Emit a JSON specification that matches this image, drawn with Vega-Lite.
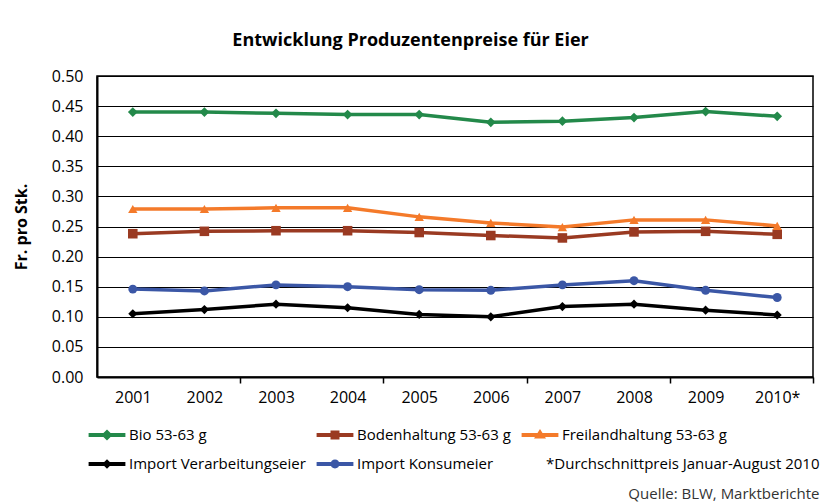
{
  "$schema": "https://vega.github.io/schema/vega-lite/v6.json",
  "background": "white",
  "padding": {"left": 12, "top": 31, "right": 4, "bottom": 0},
  "config": {"font": "Open Sans", "view": {"stroke": "black", "strokeWidth": 1.5}},
  "title": {
    "text": "*Durchschnittpreis Januar-August 2010",
    "subtitle": "Quelle: BLW, Marktberichte",
    "orient": "bottom", "anchor": "end", "frame": "bounds",
    "font": "Open Sans", "fontSize": 15, "fontWeight": "normal", "color": "black",
    "subtitleFont": "Open Sans", "subtitleFontSize": 15, "subtitleColor": "#333333",
    "subtitlePadding": 15, "offset": -18, "dx": 5
  },
  "datasets": {
    "prices": [
      {"year": "2001", "series": "Bio 53-63 g", "value": 0.440},
      {"year": "2002", "series": "Bio 53-63 g", "value": 0.440},
      {"year": "2003", "series": "Bio 53-63 g", "value": 0.438},
      {"year": "2004", "series": "Bio 53-63 g", "value": 0.436},
      {"year": "2005", "series": "Bio 53-63 g", "value": 0.436},
      {"year": "2006", "series": "Bio 53-63 g", "value": 0.423},
      {"year": "2007", "series": "Bio 53-63 g", "value": 0.425},
      {"year": "2008", "series": "Bio 53-63 g", "value": 0.431},
      {"year": "2009", "series": "Bio 53-63 g", "value": 0.441},
      {"year": "2010*", "series": "Bio 53-63 g", "value": 0.433},
      {"year": "2001", "series": "Bodenhaltung 53-63 g", "value": 0.238},
      {"year": "2002", "series": "Bodenhaltung 53-63 g", "value": 0.242},
      {"year": "2003", "series": "Bodenhaltung 53-63 g", "value": 0.243},
      {"year": "2004", "series": "Bodenhaltung 53-63 g", "value": 0.243},
      {"year": "2005", "series": "Bodenhaltung 53-63 g", "value": 0.240},
      {"year": "2006", "series": "Bodenhaltung 53-63 g", "value": 0.235},
      {"year": "2007", "series": "Bodenhaltung 53-63 g", "value": 0.231},
      {"year": "2008", "series": "Bodenhaltung 53-63 g", "value": 0.241},
      {"year": "2009", "series": "Bodenhaltung 53-63 g", "value": 0.242},
      {"year": "2010*", "series": "Bodenhaltung 53-63 g", "value": 0.237},
      {"year": "2001", "series": "Freilandhaltung 53-63 g", "value": 0.279},
      {"year": "2002", "series": "Freilandhaltung 53-63 g", "value": 0.279},
      {"year": "2003", "series": "Freilandhaltung 53-63 g", "value": 0.281},
      {"year": "2004", "series": "Freilandhaltung 53-63 g", "value": 0.281},
      {"year": "2005", "series": "Freilandhaltung 53-63 g", "value": 0.266},
      {"year": "2006", "series": "Freilandhaltung 53-63 g", "value": 0.256},
      {"year": "2007", "series": "Freilandhaltung 53-63 g", "value": 0.249},
      {"year": "2008", "series": "Freilandhaltung 53-63 g", "value": 0.261},
      {"year": "2009", "series": "Freilandhaltung 53-63 g", "value": 0.261},
      {"year": "2010*", "series": "Freilandhaltung 53-63 g", "value": 0.251},
      {"year": "2001", "series": "Import Verarbeitungseier", "value": 0.105},
      {"year": "2002", "series": "Import Verarbeitungseier", "value": 0.112},
      {"year": "2003", "series": "Import Verarbeitungseier", "value": 0.121},
      {"year": "2004", "series": "Import Verarbeitungseier", "value": 0.115},
      {"year": "2005", "series": "Import Verarbeitungseier", "value": 0.104},
      {"year": "2006", "series": "Import Verarbeitungseier", "value": 0.100},
      {"year": "2007", "series": "Import Verarbeitungseier", "value": 0.117},
      {"year": "2008", "series": "Import Verarbeitungseier", "value": 0.121},
      {"year": "2009", "series": "Import Verarbeitungseier", "value": 0.111},
      {"year": "2010*", "series": "Import Verarbeitungseier", "value": 0.103},
      {"year": "2001", "series": "Import Konsumeier", "value": 0.146},
      {"year": "2002", "series": "Import Konsumeier", "value": 0.143},
      {"year": "2003", "series": "Import Konsumeier", "value": 0.153},
      {"year": "2004", "series": "Import Konsumeier", "value": 0.150},
      {"year": "2005", "series": "Import Konsumeier", "value": 0.145},
      {"year": "2006", "series": "Import Konsumeier", "value": 0.144},
      {"year": "2007", "series": "Import Konsumeier", "value": 0.153},
      {"year": "2008", "series": "Import Konsumeier", "value": 0.160},
      {"year": "2009", "series": "Import Konsumeier", "value": 0.144},
      {"year": "2010*", "series": "Import Konsumeier", "value": 0.132}
    ]
  },
  "vconcat": [
    {
      "title": {"text": "Entwicklung Produzentenpreise für Eier", "font": "Open Sans", "fontSize": 18, "fontWeight": "bold", "anchor": "middle", "frame": "bounds", "offset": 18, "dx": -3, "color": "black"},
      "width": 716,
      "height": 301,
      "data": {"name": "prices"},
      "encoding": {
        "x": {
          "field": "year", "type": "ordinal", "bandPosition": 0.5,
          "scale": {"type": "band", "paddingInner": 0, "paddingOuter": 0},
          "axis": {
            "title": null, "labelAngle": 0, "labelFont": "Open Sans", "labelFontSize": 16, "labelColor": "black",
            "labelPadding": 6, "tickBand": "extent", "tickExtra": false, "tickSize": 6, "tickWidth": 1.5, "tickColor": "black",
            "tickOpacity": {"condition": {"test": "indexof(['2002','2004','2006','2008','2010*'], datum.value) >= 0", "value": 1}, "value": 0},
            "domainColor": "black", "domainWidth": 2, "grid": false
          }
        },
        "y": {
          "field": "value", "type": "quantitative",
          "scale": {"domain": [0, 0.5]},
          "axis": {
            "values": [0, 0.05, 0.1, 0.15, 0.2, 0.25, 0.3, 0.35, 0.4, 0.45, 0.5],
            "format": ".2f", "grid": true, "gridColor": "#000000", "gridWidth": 1.2, "gridOpacity": 1,
            "ticks": false, "tickSize": 0, "domain": true, "domainColor": "black", "domainWidth": 2,
            "labelFont": "Open Sans", "labelFontSize": 16, "labelColor": "black", "labelPadding": 14,
            "title": "Fr. pro Stk.", "titleFont": "Open Sans", "titleFontSize": 16, "titleFontWeight": "bold",
            "titleColor": "black", "titlePadding": 22
          }
        }
      },
      "layer": [
        {
          "mark": {"type": "line", "strokeWidth": 3.5, "strokeJoin": "round"},
          "encoding": {
            "color": {"field": "series", "type": "nominal",
              "scale": {"domain": ["Bio 53-63 g", "Bodenhaltung 53-63 g", "Freilandhaltung 53-63 g", "Import Verarbeitungseier", "Import Konsumeier"],
                        "range": ["#23894a", "#9a3a22", "#f47a2a", "#000000", "#3b57a6"]},
              "legend": null}
          }
        },
        {
          "mark": {"type": "point", "filled": true, "opacity": 1},
          "encoding": {
            "color": {"field": "series", "type": "nominal",
              "scale": {"domain": ["Bio 53-63 g", "Bodenhaltung 53-63 g", "Freilandhaltung 53-63 g", "Import Verarbeitungseier", "Import Konsumeier"],
                        "range": ["#23894a", "#9a3a22", "#f47a2a", "#000000", "#3b57a6"]},
              "legend": null},
            "shape": {"field": "series", "type": "nominal",
              "scale": {"domain": ["Bio 53-63 g", "Bodenhaltung 53-63 g", "Freilandhaltung 53-63 g", "Import Verarbeitungseier", "Import Konsumeier"],
                        "range": ["diamond", "square", "triangle-up", "diamond", "circle"]},
              "legend": null},
            "size": {"field": "series", "type": "ordinal",
              "scale": {"domain": ["Bio 53-63 g", "Bodenhaltung 53-63 g", "Freilandhaltung 53-63 g", "Import Verarbeitungseier", "Import Konsumeier"],
                        "range": [95, 80, 120, 70, 85]},
              "legend": null}
          }
        },
        {
          "mark": {"type": "point", "filled": true, "opacity": 0},
          "encoding": {
            "color": {"field": "series", "type": "nominal",
              "scale": {"domain": ["Bio 53-63 g", "Bodenhaltung 53-63 g", "Freilandhaltung 53-63 g", "Import Verarbeitungseier", "Import Konsumeier"],
                        "range": ["#23894a", "#9a3a22", "#f47a2a", "#000000", "#3b57a6"]},
              "legend": {"title": null, "orient": "bottom", "direction": "horizontal", "columns": 3, "columnPadding": 10, "rowPadding": 13, "offset": 20, "padding": 2,
                "labelFont": "Open Sans", "labelFontSize": 15, "labelColor": "black", "labelOffset": 14, "labelLimit": 400,
                "symbolSize": 256, "symbolStrokeWidth": 0, "symbolOpacity": 1}},
            "shape": {"field": "series", "type": "nominal",
              "scale": {"domain": ["Bio 53-63 g", "Bodenhaltung 53-63 g", "Freilandhaltung 53-63 g", "Import Verarbeitungseier", "Import Konsumeier"],
                        "range": [
                          "M-2.3,-0.25H2.3V0.25H-2.3Z M0,-0.7L0.7,0L0,0.7L-0.7,0Z",
                          "M-2.3,-0.25H2.3V0.25H-2.3Z M-0.56,-0.56H0.56V0.56H-0.56Z",
                          "M-2.3,-0.25H2.3V0.25H-2.3Z M0,-0.75L0.75,0.45H-0.75Z",
                          "M-2.3,-0.25H2.3V0.25H-2.3Z M0,-0.6L0.6,0L0,0.6L-0.6,0Z",
                          "M-2.3,-0.25H2.3V0.25H-2.3Z M-0.56,0A0.56,0.56,0,1,1,0.56,0A0.56,0.56,0,1,1,-0.56,0Z"
                        ]},
              "legend": {"title": null, "orient": "bottom", "direction": "horizontal", "columns": 3, "columnPadding": 10, "rowPadding": 13, "offset": 20, "padding": 2,
                "labelFont": "Open Sans", "labelFontSize": 15, "labelColor": "black", "labelOffset": 14, "labelLimit": 400,
                "symbolSize": 256, "symbolStrokeWidth": 0, "symbolOpacity": 1}}
          }
        }
      ],
      "resolve": {"scale": {"color": "independent", "shape": "independent", "size": "independent"}}
    }
  ]
}
